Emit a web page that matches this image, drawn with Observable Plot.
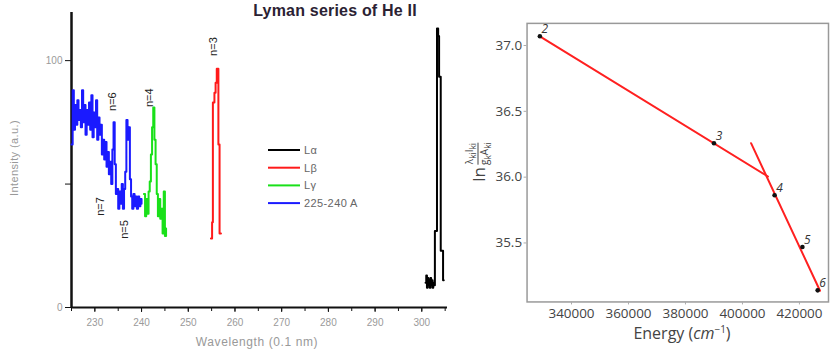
<!DOCTYPE html>
<html><head><meta charset="utf-8">
<script src="https://cdn.jsdelivr.net/npm/d3@7"></script>
<script src="https://cdn.jsdelivr.net/npm/@observablehq/plot@0.6"></script>
<style>
body{margin:0;background:#fff;}
#wrap{position:relative;width:830px;height:356px;overflow:hidden;font-family:"Liberation Sans",Arial,sans-serif;background:#fff;}
#left{position:absolute;left:0;top:0;}
#right{position:absolute;left:440px;top:0;}
.abs{position:absolute;white-space:nowrap;}
#title{left:335px;top:2px;transform:translateX(-50%);font:bold 16px "Liberation Sans",Arial,sans-serif;color:#2b2233;letter-spacing:0.2px;}
#xlabL{left:257px;top:335px;transform:translateX(-50%);font-size:12px;color:#999;letter-spacing:0.6px;}
#ylabL{left:14px;top:158px;transform:translate(-50%,-50%) rotate(-90deg);font-size:11px;color:#999;letter-spacing:0.4px;}
#xlabR{left:682px;top:322px;transform:translateX(-50%);font:16px "Open Sans",sans-serif;color:#444;}
#xlabR sup{font-size:10px;}
#ylabR{left:478px;top:162px;transform:translate(-50%,-50%) rotate(-90deg);font:17px "Open Sans",sans-serif;color:#444;display:flex;align-items:center;}
.frac{display:inline-flex;flex-direction:column;font-size:10px;line-height:11px;margin-left:2px;text-align:center;}
.frac span:first-child{border-bottom:1px solid #444;}
#legend{position:absolute;left:266px;top:141px;}
</style></head>
<body><div id="wrap">
<div id="left"></div><div id="right"></div>
<div class="abs" id="title">Lyman series of He II</div>
<div class="abs" id="xlabL">Wavelength (0.1 nm)</div>
<div class="abs" id="ylabL">Intensity (a.u.)</div>
<div class="abs" id="xlabR">Energy (<i>cm</i><sup>−1</sup>)</div>
<div class="abs" id="ylabR"><span>ln</span><span class="frac"><span>λ<sub>ki</sub>I<sub>ki</sub></span><span>g<sub>k</sub>A<sub>ki</sub></span></span></div>
<div id="legend"></div>
</div>
<script>
// ---- Left panel data (wavelength in 0.1 nm, intensity a.u.) ----
const blueX = d3.range(225, 240.01, 0.25);
const blueY = [66,88,72,82,74,84,76,80,73,88,75,82,70,80,74,83,72,86,69,79,73,84,68,77,70,74,62,68,60,67,57,63,54,59,50,64,75,58,46,48,40,47,42,50,40,48,55,76,68,73,52,45,40,46,41,45,40,45,41,44,42];
const greenX = [240.5,240.75,241,241.25,241.5,241.75,242,242.25,242.5,242.75,243,243.25,243.5,243.75,244,244.25,244.5,244.75,245,245.25];
const greenY = [46,37,44,38,47,51,62,73,81,68,58,46,37,44,36,40,30,47,29,32];
const redX = [254.85,255.1,255.27,255.6,255.85,256.1,256.45,256.7,257.0];
const redY = [28,34.5,83,87,91,96.7,66,30,30];
const blackX = [300.8,300.95,301.1,301.25,301.4,301.55,301.7,301.85,302.0,302.15,302.3,302.45,302.6,302.8,303.25,303.5,303.7,304.05,304.55,304.7];
const blackY = [10,13,8,12,9,11,8,12,9,11,8,10,9,31,113,110,93.5,23,11,11];
const seriesNames = ["Lα","Lβ","Lγ","225-240 A"];
const seriesColors = ["#000000","#ff1a1a","#19e019","#1a1aff"];
const annText = ["n=3","n=4","n=6","n=7","n=5"];
const annX = [255.3,241.7,233.8,231.2,236.3];
const annY = [105.7,85,83.4,40.9,31.6];
const wlTicks = [230,240,250,260,270,280,290,300];
const intTicks = [0,50,100];
const intTickLabels = ["0","","100"];

// ---- Right panel data ----
const levels = ["2","3","4","5","6"];
const energy = [328900,390000,411280,421050,426400];
const lnVal = [37.07,36.258,35.862,35.47,35.14];
const fit1X = [328900,408950], fit1Y = [37.07,36.005];
const fit2X = [403020,427220], fit2Y = [36.258,35.137];
const eTicks = [340000,360000,380000,400000,420000];
const lnTicks = [35.5,36.0,36.5,37.0];

const mk = (xs, ys, name) => xs.map((x,i)=>({x, y: ys[i], s: name}));
const spectra = [
  ...mk(blueX, blueY, "225-240 A"),
  ...mk(greenX, greenY, "Lγ"),
  ...mk(redX, redY, "Lβ"),
  ...mk(blackX, blackY, "Lα")
];
const ann = annText.map((t,i)=>({t, x: annX[i], y: annY[i]}));

const left = Plot.plot({
  width: 460, height: 356,
  marginLeft: 71, marginRight: 13, marginTop: 12, marginBottom: 49,
  style: {fontFamily: "Liberation Sans, Arial, sans-serif", fontSize: "10px", background: "transparent"},
  x: {domain: [225, 305.5], label: null},
  y: {domain: [0, 119.5], label: null},
  color: {domain: seriesNames, range: seriesColors},
  marks: [
    Plot.axisX({ticks: d3.range(225, 306, 5), tickSize: 4, tickFormat: () => "", stroke: "#111", label: null}),
    Plot.axisX({ticks: wlTicks, tickSize: 5, tickPadding: 6, tickFormat: d => String(d), stroke: "#111", fill: "#9a9a9a", label: null}),
    Plot.axisY({ticks: intTicks, tickSize: 6, tickPadding: 3, tickFormat: (d,i) => intTickLabels[intTicks.indexOf(d)], stroke: "#111", fill: "#9a9a9a", label: null}),
    Plot.ruleY([0], {stroke: "#111", strokeWidth: 2}),
    Plot.ruleX([225], {y1: 0, y2: 119.5, stroke: "#111", strokeWidth: 2.5}),
    Plot.line(spectra, {x: "x", y: "y", z: "s", stroke: "s", strokeWidth: 2, curve: "step-after"}),
    Plot.text(ann, {x: "x", y: "y", text: "t", rotate: -90, fontSize: 11, fill: "#222"})
  ]
});
document.getElementById("left").appendChild(left);

const pts = levels.map((l,i)=>({l, e: energy[i], v: lnVal[i]}));
const fits = [
  ...fit1X.map((e,i)=>({e, v: fit1Y[i], f: 1})),
  ...fit2X.map((e,i)=>({e, v: fit2Y[i], f: 2}))
];
const right = Plot.plot({
  width: 392, height: 356,
  marginLeft: 87, marginRight: 2, marginTop: 23, marginBottom: 53,
  style: {fontFamily: "Open Sans, sans-serif", fontSize: "13.5px", background: "transparent"},
  x: {domain: [324400, 430200], label: null},
  y: {domain: [35.052, 37.168], label: null},
  marks: [
    Plot.frame({stroke: "#999", strokeWidth: 1.5}),
    Plot.axisX({ticks: eTicks, tickSize: 3, tickPadding: 4, tickFormat: d => String(d), stroke: "#aaa", fill: "#444", label: null}),
    Plot.axisY({ticks: lnTicks, tickSize: 3, tickPadding: 2, tickFormat: d => d.toFixed(1), stroke: "#aaa", fill: "#444", label: null}),
    Plot.line(fits, {x: "e", y: "v", z: "f", stroke: "#ff2020", strokeWidth: 2}),
    Plot.dot(pts, {x: "e", y: "v", r: 2.3, fill: "#111"}),
    Plot.text(pts, {x: "e", y: "v", text: "l", dx: 5, dy: -7, fontSize: 12, fontStyle: "italic", fill: "#333"})
  ]
});
document.getElementById("right").appendChild(right);

// legend
const lg = d3.select("#legend").append("svg").attr("width", 120).attr("height", 75);
seriesNames.forEach((n,i)=>{
  const y = 9 + i*17.7;
  lg.append("line").attr("x1",2).attr("x2",34).attr("y1",y).attr("y2",y).attr("stroke",seriesColors[i]).attr("stroke-width",2);
  lg.append("text").attr("x",38).attr("y",y+4).attr("font-size",11).attr("fill","#666").attr("font-family","Liberation Sans, Arial").attr("letter-spacing","0.4").text(n);
});
</script>
</body></html>
